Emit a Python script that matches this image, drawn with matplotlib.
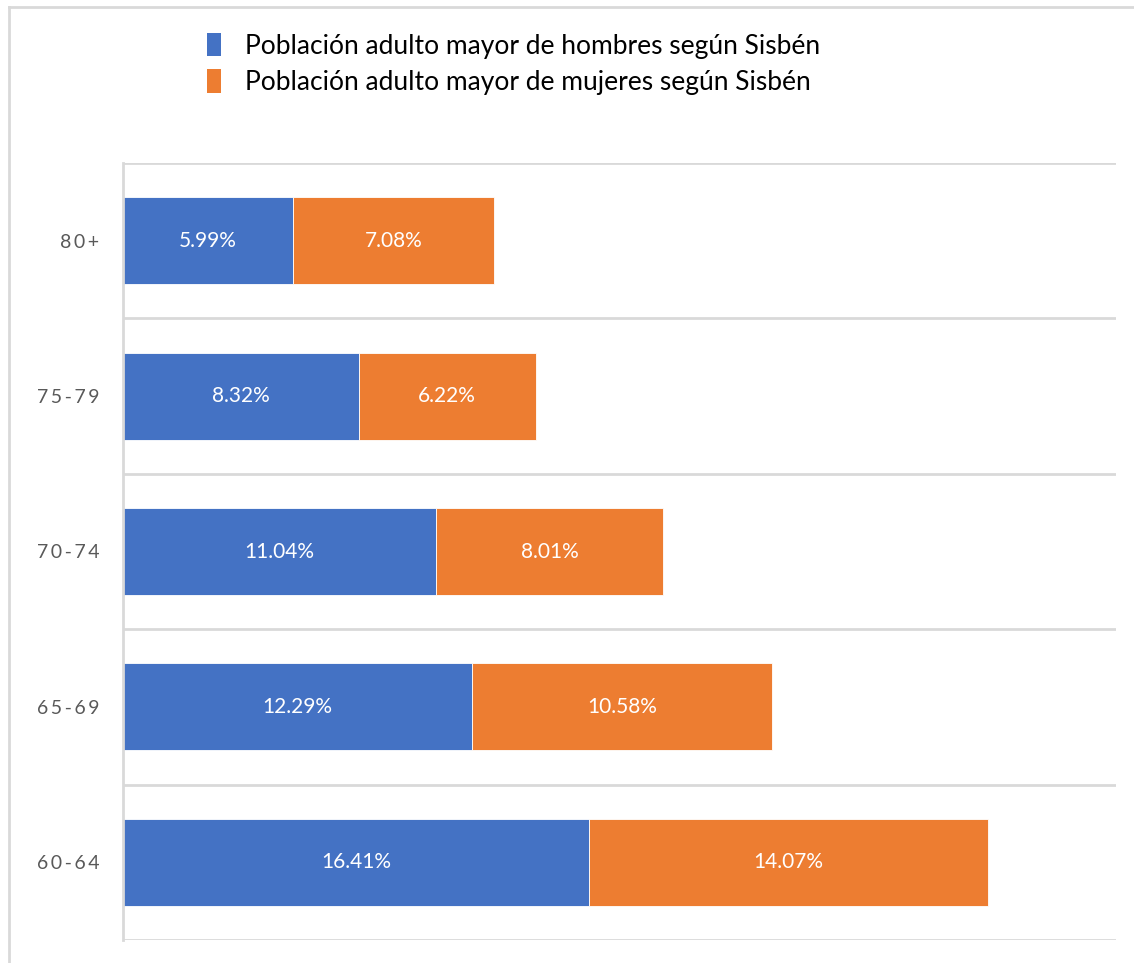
import numpy as np
import matplotlib.pyplot as plt
from matplotlib.patches import Patch
from matplotlib.lines import Line2D

plt.rcParams['font.family'] = ['Lato', 'DejaVu Sans']

# data
grupos = ['60-64', '65-69', '70-74', '75-79', '80+']
hombres = [16.41, 12.29, 11.04, 8.32, 5.99]
mujeres = [14.07, 10.58, 8.01, 6.22, 7.08]
series = ['Población adulto mayor de hombres según Sisbén',
          'Población adulto mayor de mujeres según Sisbén']
colores = ['#4472C4', '#ED7D31']

fig = plt.figure(figsize=(11.34, 9.63), dpi=100)
ax = fig.add_axes([123 / 1134, 1 - 940 / 963, (1116 - 123) / 1134, (940 - 163) / 963])

y = np.arange(len(grupos))
b1 = ax.barh(y, hombres, height=0.56, color=colores[0], edgecolor='white', linewidth=0.6)
b2 = ax.barh(y, mujeres, left=hombres, height=0.56, color=colores[1], edgecolor='white', linewidth=0.6)

for bars in (b1, b2):
    for r in bars:
        w = r.get_width()
        ax.text(r.get_x() + w / 2, r.get_y() + r.get_height() / 2, f'{w:.2f}%',
                ha='center', va='center', color='white', fontsize=15)

ax.set_xlim(0, 35)
ax.set_ylim(-0.5, len(grupos) - 0.5)
ax.set_xticks([])
ax.set_yticks(y)
ax.set_yticklabels(['\u2009'.join(g) for g in grupos], fontsize=14, color='#595959')
ax.tick_params(axis='y', length=0, pad=17)

# separadores entre categorias
for k in np.arange(-0.5, len(grupos), 1.0):
    ax.axhline(k, color='#d9d9d9', lw=2, zorder=0)
for s in ['top', 'right', 'bottom']:
    ax.spines[s].set_visible(False)
ax.spines['left'].set_color('#d9d9d9')
ax.spines['left'].set_linewidth(2)
ax.spines['left'].set_bounds(-0.5, len(grupos) - 0.5)

handles = [Patch(facecolor=c) for c in colores]
fig.legend(handles, series, loc='upper left', bbox_to_anchor=(183 / 1134, 1 - 9 / 963),
           frameon=False, fontsize=19, handlelength=0.55, handleheight=1.0,
           handletextpad=0.9, labelspacing=0.4)

# borde del area del grafico
fig.add_artist(Line2D([9 / 1134, 9 / 1134], [0, 1 - 7 / 963], color='#d9d9d9', lw=2))
fig.add_artist(Line2D([9 / 1134, 1], [1 - 7 / 963, 1 - 7 / 963], color='#d9d9d9', lw=2))

plt.savefig('out.png', dpi=100)
